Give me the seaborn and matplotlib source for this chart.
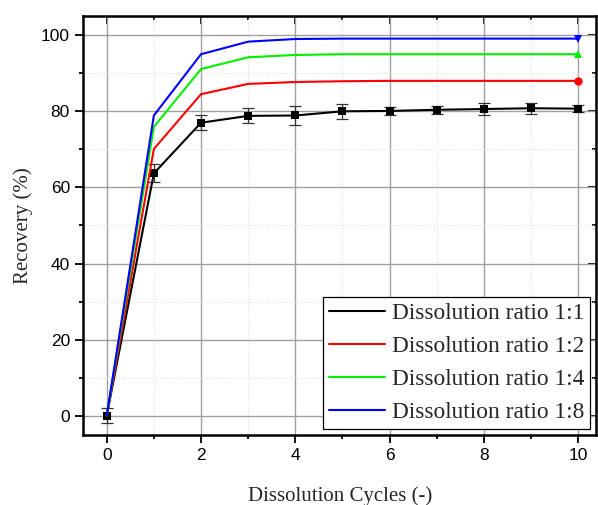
import matplotlib
matplotlib.use("Agg")
import matplotlib.pyplot as plt
import seaborn as sns
import pandas as pd
from matplotlib.ticker import MultipleLocator, NullFormatter

cycles = [0, 1, 2, 3, 4, 5, 6, 7, 8, 9, 10]
ratio_1_1 = [0.0, 63.7, 77.0, 78.8, 78.9, 80.0, 80.1, 80.4, 80.6, 80.8, 80.7]
err_1_1 = [2.0, 2.4, 1.9, 2.0, 2.5, 1.9, 1.0, 1.0, 1.5, 1.5, 1.0]
ratio_1_2 = [0.0, 70.1, 84.5, 87.2, 87.7, 87.9, 88.0, 88.0, 88.0, 88.0, 88.0]
ratio_1_4 = [0.0, 75.9, 91.1, 94.2, 94.8, 95.0, 95.0, 95.0, 95.0, 95.0, 95.0]
ratio_1_8 = [0.0, 78.9, 95.0, 98.3, 99.0, 99.1, 99.1, 99.1, 99.1, 99.1, 99.1]
labels = ["Dissolution ratio 1:1", "Dissolution ratio 1:2",
          "Dissolution ratio 1:4", "Dissolution ratio 1:8"]

df = pd.DataFrame({"cycle": cycles, labels[0]: ratio_1_1, labels[1]: ratio_1_2,
                   labels[2]: ratio_1_4, labels[3]: ratio_1_8})

sns.set_style("ticks")
plt.rcParams["font.family"] = ["Liberation Sans", "DejaVu Sans"]
serif = ["Liberation Serif", "DejaVu Serif"]

fig = plt.figure(figsize=(5.98, 5.05), dpi=100)
ax = fig.add_axes([0.139, 0.139, 0.858, 0.829])

ax.grid(which="major", color="#a0a0a0", linewidth=1.0, zorder=0)
ax.grid(which="minor", color="#dddddd", linewidth=0.8, linestyle=":", zorder=0)
ax.set_axisbelow(True)

ax.errorbar(cycles, ratio_1_1, yerr=err_1_1, fmt="none", ecolor="#333333",
            elinewidth=0.9, capsize=4, capthick=0.9, zorder=3)

styles = [("black", "s", None), ("red", "o", [10]), ("#00ee00", "^", [10]), ("blue", "v", [10])]
for lab, (col, mk, me) in zip(labels, styles):
    sns.lineplot(data=df, x="cycle", y=lab, ax=ax, color=col, linewidth=1.5,
                 marker=mk, markersize=6, markeredgewidth=0, markevery=me,
                 label=lab, zorder=4)

ax.set_xlim(-0.5, 10.38)
ax.set_ylim(-5, 105)
ax.xaxis.set_major_locator(MultipleLocator(2))
ax.xaxis.set_minor_locator(MultipleLocator(1))
ax.yaxis.set_major_locator(MultipleLocator(20))
ax.yaxis.set_minor_locator(MultipleLocator(10))
ax.tick_params(which="both", direction="out", width=1.3, labelsize=12.5,
               colors="black", top=False, right=False)
ax.tick_params(which="major", length=6)
ax.tick_params(which="minor", length=3)
for s in ax.spines.values():
    s.set_linewidth(1.8)
    s.set_color("black")

# inward ticks on top and right
top = ax.secondary_xaxis("top")
top.xaxis.set_major_locator(MultipleLocator(2))
top.xaxis.set_minor_locator(MultipleLocator(1))
top.xaxis.set_major_formatter(NullFormatter())
top.tick_params(which="both", direction="in", width=1.3, colors="black")
top.tick_params(which="major", length=6)
top.tick_params(which="minor", length=3)
right = ax.secondary_yaxis("right")
right.yaxis.set_major_locator(MultipleLocator(20))
right.yaxis.set_minor_locator(MultipleLocator(10))
right.yaxis.set_major_formatter(NullFormatter())
right.tick_params(which="both", direction="in", width=1.3, colors="black")
right.tick_params(which="major", length=6)
right.tick_params(which="minor", length=3)

ax.set_xlabel("Dissolution Cycles (-)", fontsize=15, family=serif, labelpad=17)
ax.set_ylabel("Recovery (%)", fontsize=15, family=serif, labelpad=6)

handles = [plt.Line2D([], [], color=c, linewidth=1.5) for c, _, _ in styles]
leg = ax.legend(handles, labels, loc="lower right", prop={"family": serif, "size": 16.8},
                frameon=True, fancybox=False, edgecolor="black", framealpha=1,
                handlelength=2.4, borderpad=0.25, labelspacing=0.5, handletextpad=0.3,
                borderaxespad=0.25, bbox_to_anchor=(1.0, 0.0))
leg.get_frame().set_linewidth(0.9)

fig.savefig("out.png", dpi=100)
